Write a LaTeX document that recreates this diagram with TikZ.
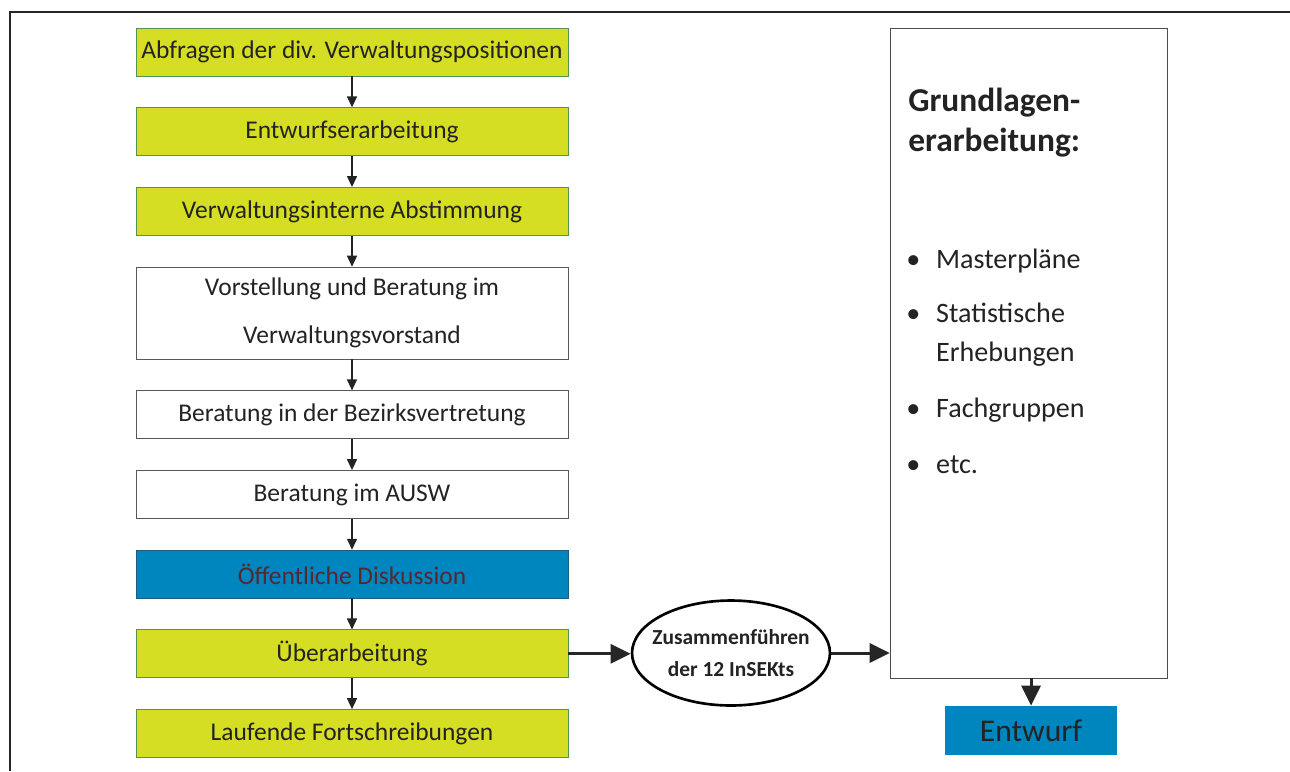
\documentclass[tikz,border=0pt]{standalone}
\usepackage{fontspec}
\setmainfont{Carlito}
\usepackage{tikz}
\usetikzlibrary{shapes,arrows,arrows.meta,positioning,calc}

\definecolor{gelb}{RGB}{214,222,35}
\definecolor{gruen}{RGB}{80,150,80}
\definecolor{blau}{RGB}{0,134,190}
\definecolor{blaurand}{RGB}{30,90,130}
\definecolor{schrift}{RGB}{35,35,35}
\definecolor{diskschrift}{RGB}{85,40,50}

\tikzset{
  schritt/.style={draw=gruen, thin, minimum width=8.64cm, minimum height=0.96cm,
    inner sep=0pt, text=schrift, font=\fontsize{14.5}{17}\selectfont},
  gelbbox/.style={schritt, fill=gelb},
  weissbox/.style={schritt, draw=gray!70!black, fill=white},
  blaubox/.style={schritt, draw=blaurand, fill=blau},
  pfeil/.style={-{Triangle[length=0.22cm,width=0.2cm]}, line width=0.85pt, draw=schrift},
  dickpfeil/.style={-{Triangle[length=0.4cm,width=0.38cm]}, line width=1.7pt, draw=black!85}
}

\begin{document}
\begin{tikzpicture}[x=0.02cm,y=-0.02cm, node distance=0.62cm]
\useasboundingbox (0,0) rectangle (1290,771);
% rahmen
\draw[line width=1.7pt, black!85] (10,771) -- (10,12) -- (1290,12);

% linke spalte
\node[gelbbox] (abfrage) at (352,52) {Abfragen der div. Verwaltungspositionen};
\node[gelbbox, below=of abfrage] (entwurfsarb) {Entwurfserarbeitung};
\node[gelbbox, below=of entwurfsarb] (abstimmung) {Verwaltungsinterne Abstimmung};
\node[weissbox, below=of abstimmung, minimum height=1.84cm, align=center,
  font=\fontsize{14.5}{27.5}\selectfont] (vorstellung) {Vorstellung und Beratung im\\Verwaltungsvorstand};
\node[weissbox, below=of vorstellung] (bezirk) {Beratung in der Bezirksvertretung};
\node[weissbox, below=of bezirk] (ausw) {Beratung im AUSW};
\node[blaubox, below=of ausw, text=diskschrift] (diskussion) {Öffentliche Diskussion};
\node[gelbbox, below=of diskussion] (ueberarb) {Überarbeitung};
\node[gelbbox, below=of ueberarb] (laufend) {Laufende Fortschreibungen};

\foreach \von/\nach in {abfrage/entwurfsarb, entwurfsarb/abstimmung, abstimmung/vorstellung,
    vorstellung/bezirk, bezirk/ausw, ausw/diskussion, diskussion/ueberarb, ueberarb/laufend}
  \draw[pfeil] (\von) -- (\nach);

% mitte
\node[ellipse, draw, line width=1.5pt, minimum width=3.96cm, minimum height=2.1cm,
  inner xsep=-0.2cm, inner ysep=0pt, align=center, text=schrift,
  font=\bfseries\fontsize{12.2}{18.5}\selectfont]
  (zusammen) at (731,653) {Zusammenführen\\der 12 InSEKts};

% rechts
\node[draw=gray!60!black, fill=white, minimum width=5.54cm, minimum height=13cm, inner sep=0pt]
  (grundlagen) at (1028.5,353) {};
\node[anchor=west, align=left, inner sep=0pt, text=schrift,
  font=\bfseries\fontsize{19}{22.8}\selectfont] (titel) at (908,123) {Grundlagen-\\erarbeitung:};
\node[anchor=north west, inner sep=0pt, text=schrift, font=\fontsize{16}{22}\selectfont]
  (liste) at (906,241) {%
  \begin{tabular}{@{}l@{\hspace{9pt}}l@{}}
  \textbullet & Masterpläne\\[9pt]
  \textbullet & Statistische\\
              & Erhebungen\\[10pt]
  \textbullet & Fachgruppen\\[10pt]
  \textbullet & etc.
  \end{tabular}};
\node[fill=blau, minimum width=3.44cm, minimum height=0.98cm, inner sep=0pt, text=schrift,
  font=\fontsize{18}{22}\selectfont] (entwurf) at (1031,730.5) {Entwurf};

\draw[dickpfeil] (ueberarb.east) -- (ueberarb.east -| zusammen.west);
\draw[dickpfeil] (zusammen.east) -- (zusammen.east -| grundlagen.west);
\draw[dickpfeil] (entwurf.north |- grundlagen.south) -- (entwurf.north);
\end{tikzpicture}
\end{document}
